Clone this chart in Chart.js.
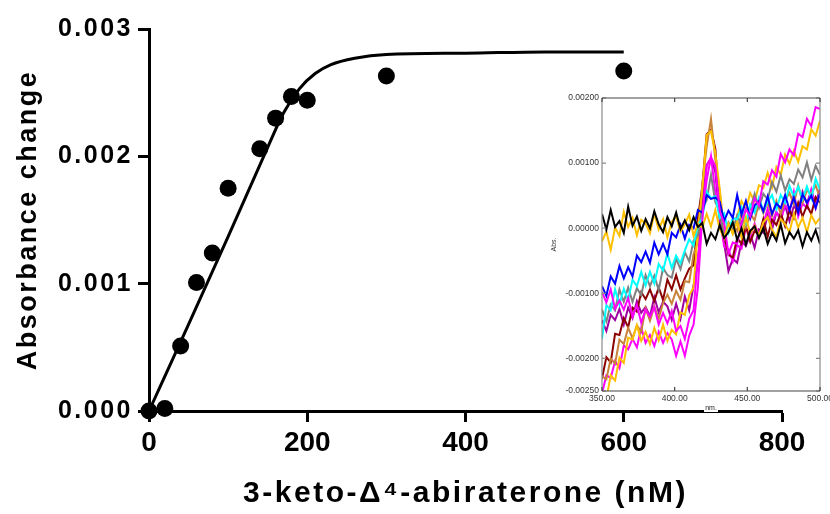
<!DOCTYPE html>
<html>
<head>
<meta charset="utf-8">
<title>Absorbance change vs 3-keto-Δ4-abiraterone</title>
<script src="https://cdn.jsdelivr.net/npm/chart.js@4.4.1/dist/chart.umd.min.js"></script>
<style>
  html, body { margin: 0; padding: 0; background: #fff; overflow: hidden; }
  #wrap { position: relative; width: 830px; height: 514px; overflow: hidden; }
  #mainChart { position: absolute; left: 0; top: 0; }
  #insetChart { position: absolute; left: 540px; top: 88px; }
</style>
</head>
<body>
<div id="wrap">
  <canvas id="mainChart" width="830" height="514"></canvas>
  <canvas id="insetChart" width="300" height="330"></canvas>
</div>
<script>
// --- 1. DATA: titration (main plot) ---
const concNM   = [0, 20, 40, 60, 80, 100, 140, 160, 180, 200, 300, 600];
const absChange = [0, 0.00002, 0.00051, 0.00101, 0.00124, 0.00175, 0.00206, 0.0023, 0.00247, 0.00244, 0.00263, 0.00267];

// fitted curve
const fitConc = [0, 50, 100, 150, 170, 190, 210, 230, 260, 300, 400, 500, 600];
const fitAbs  = [0, 0.00068, 0.00137, 0.00207, 0.00234, 0.00253, 0.00265, 0.00272, 0.00277, 0.0028, 0.00281, 0.00282, 0.00282];

const mainXTicks = [0, 200, 400, 600, 800];
const mainYTicks = [0, 0.001, 0.002, 0.003];

// --- 2. DATA: difference spectra (inset), values in 1e-5 Abs ---
const wavelengths = [350, 353, 356, 359, 362, 365, 368, 371, 374, 377, 380, 383, 386, 389, 392, 395, 398,
  401, 404, 407, 410, 413, 416, 419, 422, 425, 428, 431, 434, 437, 440, 443, 446, 449, 452, 455, 458,
  461, 464, 467, 470, 473, 476, 479, 482, 485, 488, 491, 494, 497, 500];

const specBlack = [22,-2,28,2,11,-7,33,4,18,-4, 14,0,26,6,-6,17,3,24,-1,12, -3,17,2,8,-24,-7,-17,5,-15,-6,
  9,-18,0,-25,-4,3,-15,0,-24,-7, -19,6,-23,-6,-16,-3,-28,-6,-19,-3,-24];
const specGoldFlat = [-20,-5,-33,1,-12,25,2,16,-11,13, 7,-8,22,-2,14,-14,10,18,-5,6, 21,-12,7,1,22,3,28,-1,-15,7,
  -7,9,-14,17,-8,4,-12,9,17,-2, -14,14,6,-6,22,1,16,-6,20,7,16];
const specBlue = [-89,-104,-74,-85,-58,-77,-60,-74,-42,-52, -36,-53,-22,-40,-24,-40,-7,-14,5,-16, 5,0,28,24,51,45,47,41,11,27,
  16,51,21,42,15,35,42,26,49,22, 38,31,51,28,47,24,52,39,50,31,54];
const specCyan = [-170,-118,-126,-94,-117,-93,-110,-79,-89,-67, -88,-67,-85,-55,-65,-39,-61,-42,-54,-34, -17,-27,5,15,56,46,49,16,23,-6,
  16,13,32,8,36,24,47,26,41,51, 29,51,39,65,48,64,45,64,46,76,59];
const specGray = [-125,-143,-117,-126,-94,-113,-91,-113,-92,-103, -72,-89,-73,-95,-61,-72,-76,-47,-63,-37, -51,-19,-11,29,43,82,40,26,-11,9,
  -2,20,3,30,29,53,31,53,44,71, 56,81,58,75,68,90,78,101,74,96,82];
const specMagenta = [-98,-114,-94,-124,-111,-125,-107,-136,-118,-145, -125,-136,-121,-148,-130,-146,-127,-158,-150,-170, -139,-126,-46,12,95,109,95,26,8,-39,
  -22,-24,9,29,18,46,35,72,67,89, 79,114,101,121,112,145,140,168,157,186,183];
const specMagenta2 = [-254,-226,-230,-204,-215,-180,-186,-170,-183,-153, -176,-164,-181,-159,-176,-161,-171,-196,-174,-196, -165,-148,-90,18,73,110,54,23,-28,-33,
  -51,-26,-31,1,-13,7,-11,6,30,8, 26,11,36,25,56,18,38,31,59,31,57];
const specPurple = [-141,-158,-133,-141,-124,-148,-122,-138,-112,-130, -121,-135,-106,-129,-113,-120,-141,-116,-139,-105, -126,-88,-53,39,97,108,86,11,-22,-66,
  -47,-53,-20,-27,-9,-30,-2,-7,20,-2, 24,17,35,11,34,26,56,38,58,37,61];
const specPeru = [-227,-232,-200,-208,-171,-178,-153,-169,-149,-159, -123,-142,-120,-139,-115,-102,-116,-96,-110,-81, -83,-40,-21,67,125,168,105,57,-7,-2,
  6,-4,22,1,22,12,40,23,40,19, 42,22,43,54,37,66,39,58,53,66,46];
const specMaroon = [-231,-198,-206,-162,-164,-138,-152,-122,-128,-98, -109,-94,-112,-91,-110,-79,-94,-72,-94,-77, -62,-57,16,63,144,151,122,25,-9,-41,
  -45,-15,-24,3,-21,-4,-11,14,-13,13, 5,23,3,27,15,39,18,35,22,48,39];
const specOrange = [-255,-262,-226,-234,-199,-207,-168,-171,-149,-173, -159,-178,-153,-172,-148,-173,-156,-163,-129,-133, -103,-91,-2,58,143,149,115,60,-3,7,
  -9,18,42,29,54,41,66,62,85,63, 94,82,113,99,119,102,126,121,152,142,165];

const insetXTicks = [350, 400, 450, 500];
const insetYTicks = [-0.0025, -0.002, -0.001, 0, 0.001, 0.002];

// --- 3. HELPERS ---
const FONT = '"Liberation Sans", Arial, Helvetica, sans-serif';
Chart.defaults.font.family = FONT;

const toPoints = (xs, ys) => xs.map((x, i) => ({ x: x, y: ys[i] }));
const toSpectrum = (arr) => wavelengths.map((w, i) => ({ x: w, y: arr[i] / 1e5 }));

// wide letter spacing for axis titles and y labels of the main plot
const spacedText = {
  id: 'spacedText',
  beforeDraw(chart) { chart.ctx.letterSpacing = '2.5px'; },
  beforeDatasetsDraw(chart) { chart.ctx.letterSpacing = '0px'; }
};

// inset frame with inward tick marks + white patch behind "nm."
const insetFrame = {
  id: 'insetFrame',
  beforeDraw(chart) {
    const { ctx, scales: { x } } = chart;
    const cx = (x.left + x.right) / 2;
    const cy = x.bottom - 10;
    ctx.save();
    ctx.fillStyle = '#fff';
    ctx.fillRect(cx - 7, cy - 4, 14, 8);
    ctx.restore();
  },
  afterDraw(chart) {
    const { ctx, chartArea: a, scales: { x, y } } = chart;
    ctx.save();
    ctx.lineWidth = 1.2;
    ctx.strokeStyle = '#8a8a8a';
    ctx.beginPath();
    ctx.moveTo(a.left, a.top); ctx.lineTo(a.left, a.bottom);
    ctx.moveTo(a.right, a.top); ctx.lineTo(a.right, a.bottom);
    insetYTicks.forEach(v => {
      const py = y.getPixelForValue(v);
      ctx.moveTo(a.left, py); ctx.lineTo(a.left + 4, py);
      ctx.moveTo(a.right, py); ctx.lineTo(a.right - 4, py);
    });
    ctx.stroke();
    ctx.strokeStyle = '#444';
    ctx.beginPath();
    ctx.moveTo(a.left, a.top); ctx.lineTo(a.right, a.top);
    ctx.moveTo(a.left, a.bottom); ctx.lineTo(a.right, a.bottom);
    insetXTicks.forEach(v => {
      const px = x.getPixelForValue(v);
      ctx.moveTo(px, a.bottom); ctx.lineTo(px, a.bottom - 4);
      ctx.moveTo(px, a.top); ctx.lineTo(px, a.top + 4);
    });
    ctx.stroke();
    ctx.restore();
  }
};

// --- 4. MAIN CHART ---
new Chart(document.getElementById('mainChart'), {
  type: 'scatter',
  data: {
    datasets: [
      {
        label: 'Absorbance change',
        data: toPoints(concNM, absChange),
        pointRadius: 8.5,
        pointBackgroundColor: '#000',
        pointBorderWidth: 0,
        clip: false,
        order: 0
      },
      {
        type: 'line',
        label: 'Fit',
        data: toPoints(fitConc, fitAbs),
        borderColor: '#000',
        borderWidth: 3,
        pointRadius: 0,
        cubicInterpolationMode: 'monotone',
        fill: false,
        clip: false,
        order: 1
      }
    ]
  },
  options: {
    responsive: false,
    animation: false,
    layout: { padding: { left: 0, top: 29, right: 48, bottom: 0 } },
    plugins: { legend: { display: false }, tooltip: { enabled: false } },
    scales: {
      x: {
        type: 'linear', min: 0, max: 800,
        afterBuildTicks(s) { s.ticks = mainXTicks.map(v => ({ value: v })); },
        afterFit(s) { s.height = 103; },
        grid: { drawOnChartArea: false, drawTicks: true, tickLength: 11, tickWidth: 3, tickColor: '#000' },
        border: { color: '#000', width: 3 },
        ticks: { z: 1, color: '#000', padding: 4, maxRotation: 0, font: { size: 28, weight: 'bold' }, callback: v => String(v) },
        title: { display: true, text: '3-keto-Δ⁴-abiraterone (nM)', color: '#000', font: { size: 30, weight: 'bold' }, padding: { top: 0, bottom: 2 } }
      },
      y: {
        type: 'linear', min: 0, max: 0.003,
        afterBuildTicks(s) { s.ticks = mainYTicks.map(v => ({ value: v })); },
        afterFit(s) { s.width = 149; },
        grid: { drawOnChartArea: false, drawTicks: true, tickLength: 11, tickWidth: 3, tickColor: '#000' },
        border: { color: '#000', width: 3 },
        ticks: { color: '#000', padding: 5, font: { size: 25, weight: 'bold' }, callback: v => v.toFixed(3) },
        title: { display: true, text: 'Absorbance change', color: '#000', font: { size: 27, weight: 'bold' }, padding: { top: 12, bottom: 0 } }
      }
    }
  },
  plugins: [spacedText]
});

// --- 5. INSET SPECTRA ---
const insetSeries = [
  { name: 'black', data: specBlack, color: '#000000' },
  { name: 'gold flat', data: specGoldFlat, color: '#FFC000' },
  { name: 'magenta', data: specMagenta, color: '#FF00FF' },
  { name: 'blue', data: specBlue, color: '#0000FF' },
  { name: 'cyan', data: specCyan, color: '#00FFFF' },
  { name: 'gray', data: specGray, color: '#808080' },
  { name: 'orange', data: specOrange, color: '#FFC000' },
  { name: 'peru', data: specPeru, color: '#C8823C' },
  { name: 'maroon', data: specMaroon, color: '#8B0000' },
  { name: 'magenta 2', data: specMagenta2, color: '#FF00FF' },
  { name: 'purple', data: specPurple, color: '#A000A0' }
];

new Chart(document.getElementById('insetChart'), {
  type: 'line',
  data: {
    datasets: insetSeries.map(s => ({
      label: s.name,
      data: toSpectrum(s.data),
      borderColor: s.color,
      borderWidth: 2,
      pointRadius: 0,
      tension: 0,
      fill: false
    }))
  },
  options: {
    responsive: false,
    animation: false,
    layout: { padding: { left: 0, top: 10, right: 20, bottom: 0 } },
    plugins: { legend: { display: false }, tooltip: { enabled: false } },
    scales: {
      x: {
        type: 'linear', min: 350, max: 500,
        afterBuildTicks(s) { s.ticks = insetXTicks.map(v => ({ value: v })); },
        afterFit(s) { s.height = 27; },
        grid: { display: false, drawTicks: false },
        border: { display: false },
        ticks: { color: '#333', padding: 3, maxRotation: 0, font: { size: 8.5 }, callback: v => v.toFixed(2) },
        title: { display: true, text: 'nm.', color: '#222', font: { size: 7 }, padding: { top: 0, bottom: 6 } }
      },
      y: {
        type: 'linear', min: -0.0025, max: 0.002,
        afterBuildTicks(s) { s.ticks = insetYTicks.map(v => ({ value: v })); },
        afterFit(s) { s.width = 62; },
        grid: { display: false, drawTicks: false },
        border: { display: false },
        ticks: { color: '#333', padding: 3, font: { size: 8.5 }, callback: v => v.toFixed(5) },
        title: { display: true, text: 'Abs.', color: '#333', font: { size: 7 }, padding: { top: 10, bottom: 0 } }
      }
    }
  },
  plugins: [insetFrame]
});
</script>
</body>
</html>
